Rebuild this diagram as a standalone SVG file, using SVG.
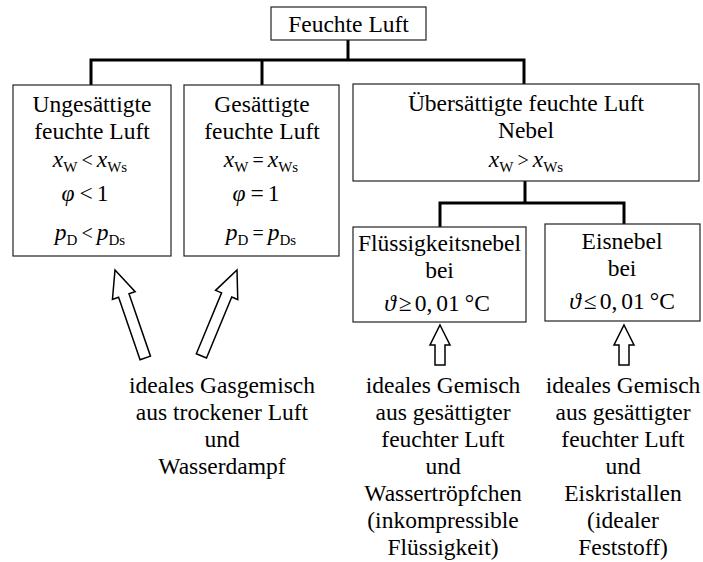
<svg xmlns="http://www.w3.org/2000/svg" width="703" height="562" viewBox="0 0 703 562" font-family="'Liberation Serif', 'Times New Roman', serif">
  <style>
    .box { fill: #fff; stroke: #222; stroke-width: 1.2; }
    .conn { fill: none; stroke: #000; stroke-width: 3; }
    .blk { fill: #fff; stroke: #000; stroke-width: 1.5; stroke-linejoin: miter; }
    text { font-size: 23.5px; fill: #000; text-anchor: middle; }
    .i { font-style: italic; }
    .s { font-size: 15px; }
    .op { font-size: 20px; }
  </style>
  <defs>
    <path id="diagArrow" class="blk" d="M0,0 L12,27 L5.5,27 L5.5,93 L-5.5,93 L-5.5,27 L-12,27 Z"/>
    <path id="upArrow" class="blk" d="M0,0 L10,20 L5,20 L5,40 L-5,40 L-5,20 L-10,20 Z"/>
  </defs>

  <!-- tree connectors -->
  <g id="connectors">
    <path class="conn" d="M348,40 V60"/>
    <path class="conn" d="M91,85 V60 H524 V84"/>
    <path class="conn" d="M262,60 V85"/>
    <path class="conn" d="M525,181 V203"/>
    <path class="conn" d="M440,227 V203 H624 V224"/>
  </g>

  <!-- root -->
  <g id="feuchte-luft">
    <rect class="box" x="271" y="7" width="155" height="33"/>
    <text x="348.5" y="32">Feuchte Luft</text>
  </g>

  <!-- unsaturated -->
  <g id="ungesaettigt">
    <rect class="box" x="13" y="85" width="158" height="171"/>
    <text x="92" y="112">Ungesättigte</text>
    <text x="92" y="139">feuchte Luft</text>
    <text x="90" y="167"><tspan class="i">x</tspan><tspan class="s" dy="5">W</tspan><tspan class="op" dy="-5" dx="4">&lt;</tspan><tspan class="i" dx="4">x</tspan><tspan class="s" dy="5">Ws</tspan></text>
    <text x="85" y="201"><tspan class="i">φ</tspan><tspan dx="5">&lt;</tspan><tspan dx="4">1</tspan></text>
    <text x="90" y="240"><tspan class="i">p</tspan><tspan class="s" dy="5">D</tspan><tspan class="op" dy="-5" dx="4">&lt;</tspan><tspan class="i" dx="4">p</tspan><tspan class="s" dy="5">Ds</tspan></text>
  </g>

  <!-- saturated -->
  <g id="gesaettigt">
    <rect class="box" x="184" y="85" width="155" height="171"/>
    <text x="262" y="112">Gesättigte</text>
    <text x="262" y="139">feuchte Luft</text>
    <text x="261" y="167"><tspan class="i">x</tspan><tspan class="s" dy="5">W</tspan><tspan class="op" dy="-5" dx="4">=</tspan><tspan class="i" dx="4">x</tspan><tspan class="s" dy="5">Ws</tspan></text>
    <text x="256" y="201"><tspan class="i">φ</tspan><tspan dx="5">=</tspan><tspan dx="4">1</tspan></text>
    <text x="261" y="240"><tspan class="i">p</tspan><tspan class="s" dy="5">D</tspan><tspan class="op" dy="-5" dx="4">=</tspan><tspan class="i" dx="4">p</tspan><tspan class="s" dy="5">Ds</tspan></text>
  </g>

  <!-- supersaturated -->
  <g id="uebersaettigt">
    <rect class="box" x="353" y="84" width="346" height="97"/>
    <text x="526" y="111">Übersättigte feuchte Luft</text>
    <text x="526" y="138">Nebel</text>
    <text x="526" y="167"><tspan class="i">x</tspan><tspan class="s" dy="5">W</tspan><tspan class="op" dy="-5" dx="4">&gt;</tspan><tspan class="i" dx="4">x</tspan><tspan class="s" dy="5">Ws</tspan></text>
  </g>

  <!-- liquid fog -->
  <g id="fluessigkeitsnebel">
    <rect class="box" x="353" y="227" width="173" height="95"/>
    <text x="439.5" y="251">Flüssigkeitsnebel</text>
    <text x="439.5" y="278">bei</text>
    <text x="437" y="311"><tspan class="i">ϑ</tspan><tspan dx="3">≥</tspan><tspan dx="3">0,</tspan><tspan dx="4">01</tspan><tspan dx="5">°C</tspan></text>
  </g>

  <!-- ice fog -->
  <g id="eisnebel">
    <rect class="box" x="545" y="224" width="155" height="97"/>
    <text x="622" y="249">Eisnebel</text>
    <text x="622" y="276">bei</text>
    <text x="622" y="309"><tspan class="i">ϑ</tspan><tspan dx="3">≤</tspan><tspan dx="3">0,</tspan><tspan dx="4">01</tspan><tspan dx="5">°C</tspan></text>
  </g>

  <!-- block arrows -->
  <g id="arrows">
    <use href="#diagArrow" transform="translate(115,270) rotate(-19)"/>
    <use href="#diagArrow" transform="translate(237,270) rotate(22.5)"/>
    <use href="#upArrow" transform="translate(440,325)"/>
    <use href="#upArrow" transform="translate(624,325)"/>
  </g>

  <!-- explanatory notes -->
  <g id="note-gas">
    <text x="222" y="393">ideales Gasgemisch</text>
    <text x="222" y="420">aus trockener Luft</text>
    <text x="222" y="447">und</text>
    <text x="222" y="474">Wasserdampf</text>
  </g>
  <g id="note-liquid">
    <text x="443" y="393">ideales Gemisch</text>
    <text x="443" y="420">aus gesättigter</text>
    <text x="443" y="447">feuchter Luft</text>
    <text x="443" y="474">und</text>
    <text x="443" y="501">Wassertröpfchen</text>
    <text x="443" y="528">(inkompressible</text>
    <text x="443" y="555">Flüssigkeit)</text>
  </g>
  <g id="note-ice">
    <text x="623" y="393">ideales Gemisch</text>
    <text x="623" y="420">aus gesättigter</text>
    <text x="623" y="447">feuchter Luft</text>
    <text x="623" y="474">und</text>
    <text x="623" y="501">Eiskristallen</text>
    <text x="623" y="528">(idealer</text>
    <text x="623" y="555">Feststoff)</text>
  </g>
</svg>
